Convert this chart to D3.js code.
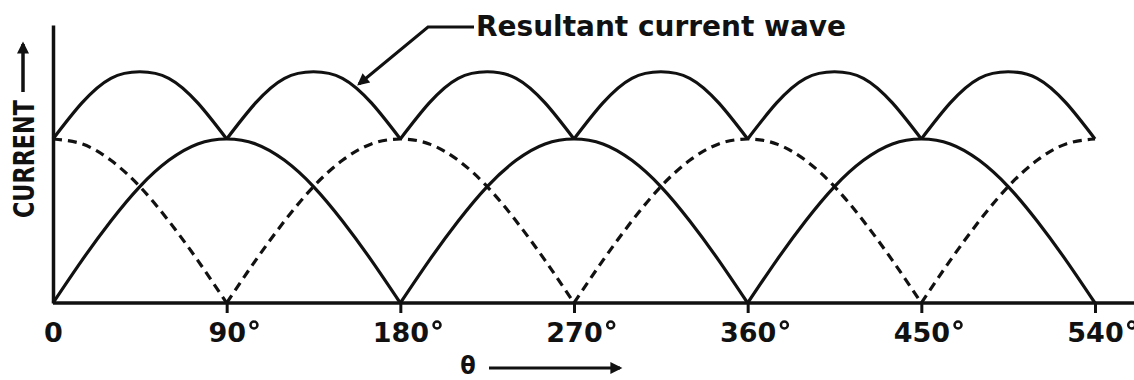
<!DOCTYPE html>
<html>
<head>
<meta charset="utf-8">
<script src="https://cdn.jsdelivr.net/npm/d3@7"></script>
<style>
  html, body { margin: 0; padding: 0; background: #fff; }
  svg { display: block; }
  .lbl { font-family: "DejaVu Sans Condensed", "Liberation Sans", sans-serif; font-weight: bold; fill: #111; }
  .axis text { font-family: "DejaVu Sans", "Liberation Sans", sans-serif; font-weight: bold; fill: #111; font-size: 27px; }
  .axis line { stroke: #111; stroke-width: 3; }
</style>
</head>
<body>
<div id="chart"></div>
<script>
// angle samples (degrees)
const angles = [0, 15, 30, 45, 60, 75, 90, 105, 120, 135, 150, 165, 180,
  195, 210, 225, 240, 255, 270, 285, 300, 315, 330, 345, 360,
  375, 390, 405, 420, 435, 450, 465, 480, 495, 510, 525, 540]

// solid wave (one phase), relative to its peak
const phaseA = [0, 0.26, 0.5, 0.71, 0.87, 0.97, 1, 0.97, 0.87, 0.71, 0.5, 0.26, 0,
  0.26, 0.5, 0.71, 0.87, 0.97, 1, 0.97, 0.87, 0.71, 0.5, 0.26, 0,
  0.26, 0.5, 0.71, 0.87, 0.97, 1, 0.97, 0.87, 0.71, 0.5, 0.26, 0]

// dashed wave (other phase)
const phaseB = [1, 0.97, 0.87, 0.71, 0.5, 0.26, 0, 0.26, 0.5, 0.71, 0.87, 0.97, 1,
  0.97, 0.87, 0.71, 0.5, 0.26, 0, 0.26, 0.5, 0.71, 0.87, 0.97, 1,
  0.97, 0.87, 0.71, 0.5, 0.26, 0, 0.26, 0.5, 0.71, 0.87, 0.97, 1]

// resultant current wave (top)
const resultant = [1, 1.22, 1.37, 1.41, 1.37, 1.22, 1, 1.22, 1.37, 1.41, 1.37, 1.22, 1,
  1.22, 1.37, 1.41, 1.37, 1.22, 1, 1.22, 1.37, 1.41, 1.37, 1.22, 1,
  1.22, 1.37, 1.41, 1.37, 1.22, 1, 1.22, 1.37, 1.41, 1.37, 1.22, 1]

const tickAngles = [0, 90, 180, 270, 360, 450, 540]

const width = 1134
const height = 380

const svg = d3.select('#chart').append('svg').attr('width', width).attr('height', height)
svg.append('rect').attr('width', width).attr('height', height).attr('fill', '#fff')

const defs = svg.append('defs')
defs.append('marker')
  .attr('id', 'arrow')
  .attr('viewBox', '0 0 10 10')
  .attr('refX', 8).attr('refY', 5)
  .attr('markerWidth', 14).attr('markerHeight', 12)
  .attr('markerUnits', 'userSpaceOnUse')
  .attr('orient', 'auto')
  .append('path').attr('d', 'M0,0 L10,5 L0,10 Z').attr('fill', '#111')

const x = d3.scaleLinear().domain([0, 540]).range([53, 1095])
const y = d3.scaleLinear().domain([0, 1]).range([303, 139])

// split a series into arches at its sharp minima
function arches(values) {
  const pts = angles.map((a, i) => ({ a, v: values[i] }))
  const out = []
  let cur = [pts[0]]
  for (let i = 1; i < pts.length; i++) {
    cur.push(pts[i])
    const cusp = i < pts.length - 1 && pts[i].v < pts[i - 1].v && pts[i].v < pts[i + 1].v
    if (cusp) { out.push(cur); cur = [pts[i]] }
  }
  out.push(cur)
  return out
}

const line = d3.line()
  .x((d) => x(d.a))
  .y((d) => y(d.v))
  .curve(d3.curveNatural)

const series = [
  { key: 'A', values: phaseA, dash: null },
  { key: 'B', values: phaseB, dash: '9,6' },
  { key: 'R', values: resultant, dash: null },
]

const waves = svg.append('g')
series.forEach((s) => {
  waves.append('g').selectAll('path')
    .data(arches(s.values))
    .join('path')
    .attr('d', line)
    .attr('fill', 'none')
    .attr('stroke', '#111')
    .attr('stroke-width', 3.2)
    .attr('stroke-dasharray', s.dash)
})

// baseline runs to the page edge
svg.append('line')
  .attr('x1', x(0)).attr('x2', width)
  .attr('y1', y(0)).attr('y2', y(0))
  .attr('stroke', '#111').attr('stroke-width', 3.5)

// vertical axis
const yTop = y.copy().domain([0, y.invert(25)]).range([y(0), 25])
svg.append('g')
  .attr('transform', `translate(${x(0)},0)`)
  .call(d3.axisLeft(yTop).tickValues([]).tickSizeOuter(0))
  .call((g) => g.select('.domain').attr('stroke', '#111').attr('stroke-width', 3.5))

const xAxisG = svg.append('g')
  .attr('class', 'axis')
  .attr('transform', `translate(0,${y(0)})`)
  .call(d3.axisBottom(x).tickValues(tickAngles).tickSize(10).tickPadding(10).tickFormat((d) => d))

xAxisG.select('.domain').remove()
xAxisG.selectAll('.tick').filter((d) => d === 0).select('line').remove()
xAxisG.selectAll('.tick').filter((d) => d !== 0).each(function () {
  const t = d3.select(this)
  const w = t.select('text').node().getComputedTextLength()
  t.append('circle')
    .attr('cx', w / 2 + 8).attr('cy', 22).attr('r', 3.5)
    .attr('fill', 'none').attr('stroke', '#111').attr('stroke-width', 2.5)
})

// axis titles
svg.append('text')
  .attr('class', 'lbl')
  .attr('transform', 'translate(34,159) rotate(-90)')
  .attr('text-anchor', 'middle')
  .attr('font-size', 28)
  .attr('textLength', 118)
  .attr('lengthAdjust', 'spacingAndGlyphs')
  .text('CURRENT')

svg.append('line')
  .attr('x1', 23).attr('y1', 92).attr('x2', 23).attr('y2', 44)
  .attr('stroke', '#111').attr('stroke-width', 3.5)
  .attr('marker-end', 'url(#arrow)')

svg.append('text')
  .attr('class', 'lbl')
  .attr('x', 468).attr('y', 374)
  .attr('text-anchor', 'middle')
  .attr('font-size', 25)
  .text('θ')

svg.append('line')
  .attr('x1', 489).attr('y1', 368).attr('x2', 620).attr('y2', 368)
  .attr('stroke', '#111').attr('stroke-width', 3)
  .attr('marker-end', 'url(#arrow)')

// annotation
svg.append('text')
  .attr('class', 'lbl')
  .attr('x', 476).attr('y', 36)
  .attr('font-size', 29)
  .attr('textLength', 370)
  .attr('lengthAdjust', 'spacingAndGlyphs')
  .text('Resultant current wave')

svg.append('polyline')
  .attr('points', '474,27 428,27 359,84')
  .attr('fill', 'none')
  .attr('stroke', '#111').attr('stroke-width', 3)
  .attr('marker-end', 'url(#arrow)')
</script>
</body>
</html>
